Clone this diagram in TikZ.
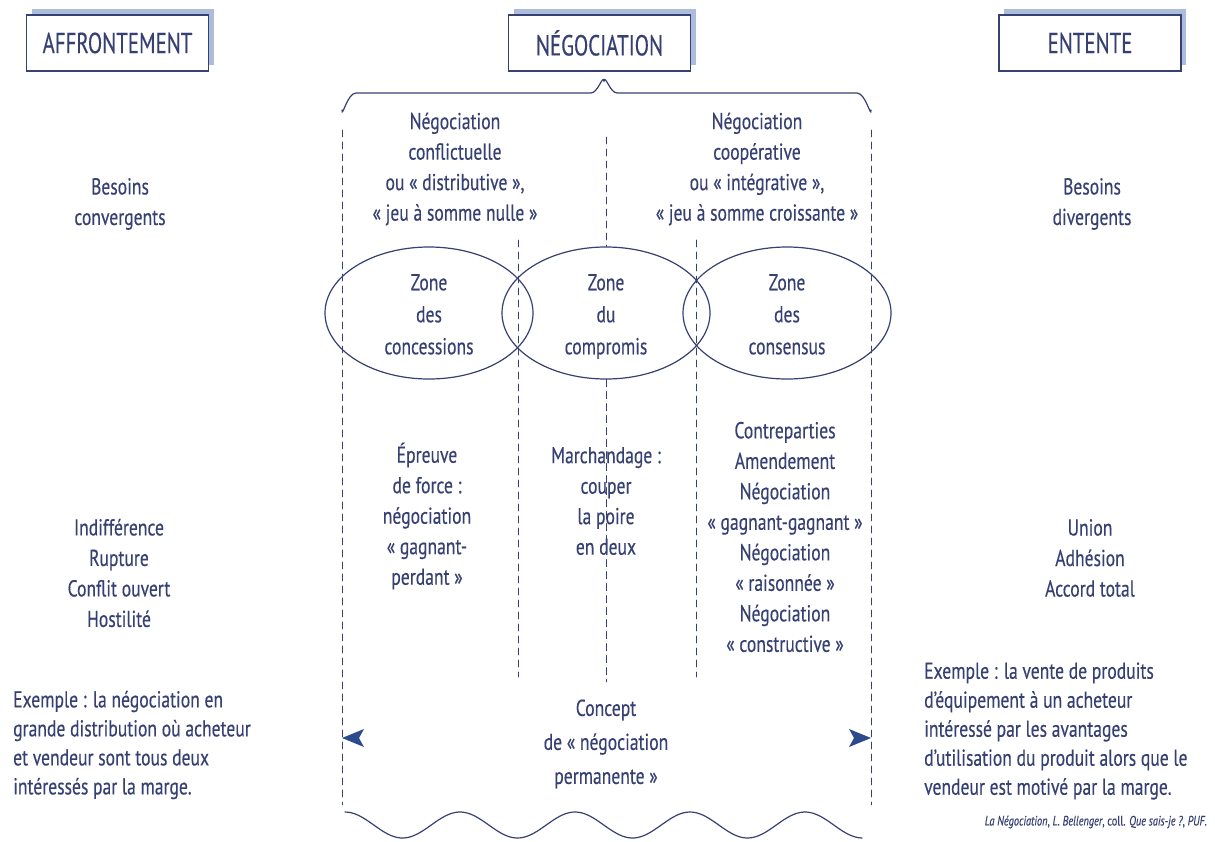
\documentclass[tikz,border=0pt]{standalone}
\usepackage{fontspec}
\setmainfont{PT Sans}[FakeStretch=0.765, FakeBold=0.3]
\newfontfamily\headfont{PT Sans}[FakeStretch=0.72, FakeBold=0.3]
\usepackage{xcolor}
\usepackage{tikz}
\usetikzlibrary{arrows.meta, shapes.geometric, shadows}
\definecolor{ink}{RGB}{55,64,114}
\definecolor{tipblue}{RGB}{45,75,140}
\definecolor{boxshade}{RGB}{172,188,218}

\begin{document}
\begin{tikzpicture}[x=1pt, y=-1pt, line cap=round,
  headbox/.style={draw=ink, line width=1.2pt, fill=white, minimum width=182pt, minimum height=56pt,
    inner sep=0pt, text=ink, font=\headfont\fontsize{29}{30}\selectfont,
    general shadow={fill=boxshade, shadow xshift=5pt, shadow yshift=6pt}},
  txt/.style={text=ink, align=center, inner sep=0pt, font=\fontsize{23}{30.5}\selectfont},
  example/.style={text=ink, align=left, anchor=west, inner sep=0pt, font=\fontsize{23}{29}\selectfont},
  zone/.style={ellipse, draw=ink, line width=1.2pt, minimum width=208pt, minimum height=132pt, inner sep=0pt},
  zonetxt/.style={txt, font=\fontsize{23}{32}\selectfont, execute at begin node=\strut, execute at end node=\strut},
  divider/.style={draw=ink, line width=0.9pt, dash pattern=on 7pt off 5pt}]

  \fill[white] (0,0) rectangle (1215,841);

  % the three headings
  \node[headbox] (affr) at (117.5,43) {AFFRONTEMENT};
  \node[headbox] (nego) at (599.5,43) {NÉGOCIATION};
  \node[headbox] (ente) at (1090,43) {ENTENTE};

  % brace under the middle heading
  \draw[ink, line width=1.2pt] (342,110) to[out=-90, in=180] (356,93) -- (591,93)
    to[out=0, in=100] (604,81) to[out=80, in=180] (617,93) -- (857,93) to[out=0, in=-90] (871,110);

  % zones
  \node[zone] (conc) at (429,313) {};
  \node[zone] (comp) at (606,313) {};
  \node[zone] (cons) at (787,313) {};
  \node[zonetxt] (concT) at ([yshift=-6pt]conc.center) {Zone\\des\\concessions};
  \node[zonetxt] (compT) at ([yshift=-6pt]comp.center) {Zone\\du\\compromis};
  \node[zonetxt] (consT) at ([yshift=-6pt]cons.center) {Zone\\des\\consensus};

  % dashed separators
  \coordinate (outL) at (342,130);  \coordinate (outLb) at (342,805);
  \coordinate (outR) at (871,130);  \coordinate (outRb) at (871,805);
  \coordinate (inL) at (518,240);   \coordinate (inLb) at (518,677);
  \coordinate (inR) at (696,240);   \coordinate (inRb) at (696,677);
  \coordinate (midT) at (606,137);  \coordinate (midB) at (606,682);
  \draw[divider] (outL) -- (outLb);
  \draw[divider] (outR) -- (outRb);
  \draw[divider] (inL) -- (inLb);
  \draw[divider] (inR) -- (inRb);
  \draw[divider] (midT) -- (comp.north);
  \draw[divider] (comp.south) -- (midB);

  % texts of the middle part
  \node[txt] (distr) at (455,169) {Négociation\\conflictuelle\\ou « distributive »,\\« jeu à somme nulle »};
  \node[txt] (integ) at (757,169) {Négociation\\coopérative\\ou « intégrative »,\\« jeu à somme croissante »};
  \node[txt] (epreuve) at (427,516) {Épreuve\\de force :\\négociation\\« gagnant-\\perdant »};
  \node[txt] (march) at (606,501) {Marchandage :\\couper\\la poire\\en deux};
  \node[txt] (contre) at (785,537) {Contreparties\\Amendement\\Négociation\\« gagnant-gagnant »\\Négociation\\« raisonnée »\\Négociation\\« constructive »};
  \node[txt, font=\fontsize{23}{34}\selectfont] (concept) at (606,744) {Concept\\de « négociation\\permanente »};

  % arrow tips on the outer lines
  \coordinate (tipL) at (342,738);
  \coordinate (tipR) at (871,738);
  \fill[tipblue] (tipL) -- ++(22,-9) -- ++(-5,9) -- ++(5,9) -- cycle;
  \fill[tipblue] (tipR) -- ++(-22,-9) -- ++(5,9) -- ++(-5,9) -- cycle;

  % wavy bottom
  \draw[ink, line width=1.2pt] plot[domain=345:862, samples=160] (\x, {825 - 13*cos(3.1304*(\x-345))});

  % side columns
  \node[txt] (besC) at (120,204) {Besoins\\convergents};
  \node[txt] (besD) at (1092,204) {Besoins\\divergents};
  \node[txt] (indiff) at (119,573) {Indifférence\\Rupture\\Conflit ouvert\\Hostilité};
  \node[txt] (union) at (1090,558) {Union\\Adhésion\\Accord total};
  \node[example] (exA) at (13,745) {Exemple : la négociation en\\grande distribution où acheteur\\et vendeur sont tous deux\\intéressés par la marge.};
  \node[example] (exB) at (924,731) {Exemple : la vente de produits\\d’équipement à un acheteur\\intéressé par les avantages\\d’utilisation du produit alors que le\\vendeur est motivé par la marge.};
  \node[text=ink, anchor=east, inner sep=0pt, font=\fontsize{13.5}{15}\selectfont] (source) at (1207,822)
    {\textit{La Négociation}, \textit{L. Bellenger}, coll. \textit{Que sais-je ?}, \textit{PUF.}};

\end{tikzpicture}
\end{document}
